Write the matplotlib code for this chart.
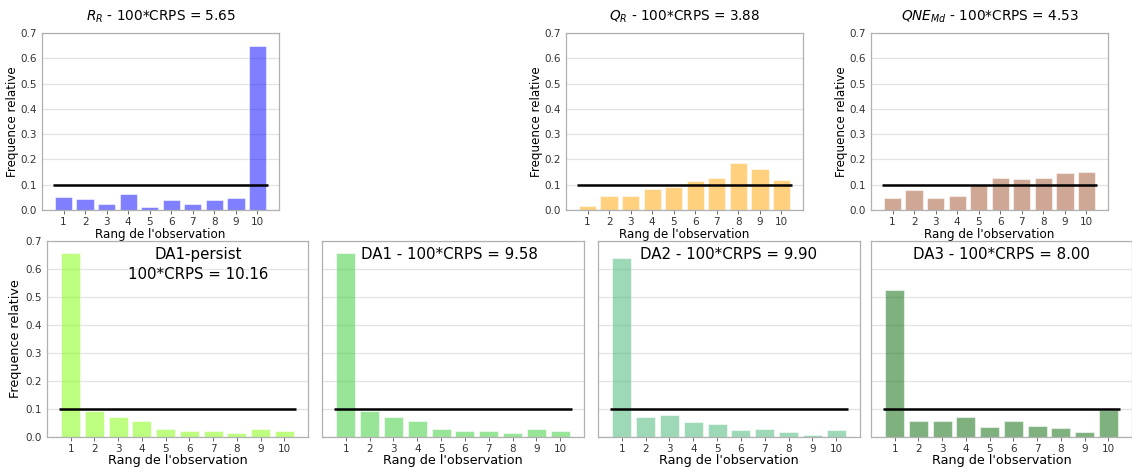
import numpy as np
import matplotlib.pyplot as plt

# rangs de l'observation
rangs = np.arange(1, 11)

# frequences relatives
freq_RR = [0.052, 0.044, 0.025, 0.064, 0.013, 0.039, 0.025, 0.041, 0.048, 0.650]
freq_QR = [0.016, 0.055, 0.057, 0.084, 0.089, 0.113, 0.125, 0.185, 0.161, 0.117]
freq_QNE = [0.047, 0.079, 0.049, 0.055, 0.100, 0.127, 0.121, 0.127, 0.148, 0.152]
freq_DA1p = [0.657, 0.094, 0.072, 0.057, 0.027, 0.023, 0.020, 0.013, 0.027, 0.023]
freq_DA1 = [0.658, 0.094, 0.072, 0.057, 0.027, 0.023, 0.020, 0.013, 0.027, 0.023]
freq_DA2 = [0.640, 0.073, 0.079, 0.055, 0.048, 0.026, 0.029, 0.019, 0.008, 0.026]
freq_DA3 = [0.526, 0.058, 0.058, 0.072, 0.037, 0.058, 0.039, 0.033, 0.017, 0.098]

crps_RR, crps_QR, crps_QNE = 5.65, 3.88, 4.53
crps_DA1p, crps_DA1, crps_DA2, crps_DA3 = 10.16, 9.58, 9.90, 8.00

fig = plt.figure(figsize=(11.32, 4.68), dpi=100)
W, H = 1132, 468


def make_ax(x0, x1, y0, y1):
    ax = fig.add_axes([x0 / W, 1 - y1 / H, (x1 - x0) / W, (y1 - y0) / H])
    for s in ax.spines.values():
        s.set_color('#b0b0b0')
        s.set_linewidth(0.9)
    ax.set_axisbelow(True)
    ax.yaxis.grid(True, color='#e3e3e3', linewidth=0.9)
    ax.set_ylim(0, 0.7)
    ax.set_xticks(rangs)
    ax.tick_params(axis='x', length=3, width=0.6, color='#555555', labelsize=7.5,
                   labelcolor='#333333', pad=2)
    ax.tick_params(axis='y', length=0, labelsize=7.5, labelcolor='#333333', pad=4)
    return ax


def hist_rang(ax, freq, color):
    ax.bar(rangs, freq, width=0.8, color=color, alpha=0.5, edgecolor='white', linewidth=0.8)
    ax.hlines(0.1, 0.5, 10.5, colors='k', linewidth=1.8)
    ax.set_xlim(0, 11)
    ax.set_ylim(0, 0.7)


# ligne du haut
hauts = [
    (42, 279, freq_RR, 'blue', r'$R_R$ - 100*CRPS = %.2f' % crps_RR),
    (566, 803, freq_QR, 'orange', r'$Q_R$ - 100*CRPS = %.2f' % crps_QR),
    (871, 1108, freq_QNE, 'sienna', r'$QNE_{Md}$ - 100*CRPS = %.2f' % crps_QNE),
]
for x0, x1, freq, col, titre in hauts:
    ax = make_ax(x0, x1, 33, 210)
    hist_rang(ax, freq, col)
    ax.set_title(titre, fontsize=9.8, pad=9)
    ax.set_ylabel('Frequence relative', fontsize=8.6, labelpad=1)
    ax.set_xlabel("Rang de l'observation", fontsize=8.6, labelpad=1)

# ligne du bas
bas = [
    (47, 308, freq_DA1p, 'lawngreen', 'DA1-persist\n100*CRPS = %.2f' % crps_DA1p, 0.58),
    (322, 584, freq_DA1, 'limegreen', 'DA1 - 100*CRPS = %.2f' % crps_DA1, 0.485),
    (598, 860, freq_DA2, 'mediumseagreen', 'DA2 - 100*CRPS = %.2f' % crps_DA2, 0.5),
    (871, 1132, freq_DA3, 'darkgreen', 'DA3 - 100*CRPS = %.2f' % crps_DA3, 0.5),
]
for i, (x0, x1, freq, col, txt, tx) in enumerate(bas):
    ax = make_ax(x0, x1, 241, 437)
    hist_rang(ax, freq, col)
    ax.set_xlabel("Rang de l'observation", fontsize=9.2, labelpad=0)
    ax.text(tx, 0.97, txt, transform=ax.transAxes, ha='center', va='top',
            fontsize=10.8, linespacing=1.4)
    if i == 0:
        ax.set_ylabel('Frequence relative', fontsize=9.2, labelpad=2)
    else:
        ax.set_yticklabels([])

fig.savefig('out.png', dpi=100)
